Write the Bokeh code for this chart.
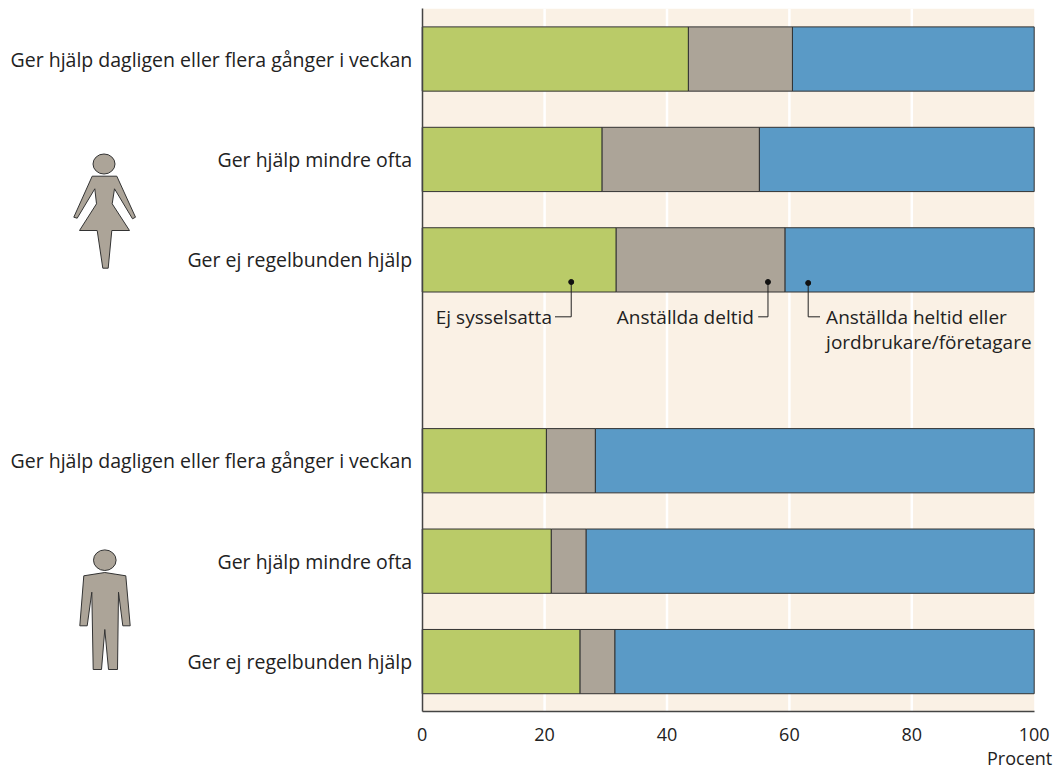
from bokeh.plotting import figure
from bokeh.embed import file_html
from bokeh.resources import INLINE
from bokeh.models import Range1d, FixedTicker
from bokeh.models import ColumnDataSource
from bokeh.core.properties import value

FONT = "Open Sans"
INK = "#222222"
EDGE = "#333333"
CREAM = "#FAF1E5"

categories = ["Ger hjälp dagligen eller flera gånger i veckan",
              "Ger hjälp mindre ofta",
              "Ger ej regelbunden hjälp"] * 2
rows = [0.5, 1.5, 2.5, 4.5, 5.5, 6.5]
ej_sysselsatta = [43.5, 29.4, 31.7, 20.3, 21.1, 25.8]
deltid = [17.0, 25.7, 27.6, 8.0, 5.7, 5.7]
heltid = [39.5, 44.9, 40.7, 71.7, 73.2, 68.5]
colors = ["#BACB68", "#ACA498", "#5A9AC6"]
x_ticks = [0, 20, 40, 60, 80, 100]
grid_ticks = [20, 40, 60, 80]

woman_x = [91.7, 116.3, 135, 132, 114, 111.7, 129, 111.3, 107.7, 102.3, 96.7, 79, 96, 94.3, 76.7, 73.3]
woman_y = [175.7, 175.7, 216.7, 218.3, 188.3, 203.3, 230, 230, 267.7, 267.7, 230, 230, 203.3, 188.3, 217.7, 216.7]
man_x = [83.3, 104.3, 125.3, 129.7, 122.3, 118, 117, 108, 104.3, 101, 92.7, 91.3, 86.7, 79.3]
man_y = [575.3, 572, 575.3, 625.3, 625.3, 591.7, 669, 669, 629, 669, 669, 591.7, 625.3, 625.3]
heads_x = [103.5, 104.3]
heads_y = [163.5, 559.7]
heads_w = [22, 22.6]
heads_h = [20, 20.6]

# The frame spans the whole page so that pictograms and unit text can lie outside the value area.
p = figure(width=1054, height=770,
           x_range=Range1d(-421.7 / 6.12, 632.3 / 6.12),
           y_range=Range1d(761.7 / 100.43, -8.3 / 100.43),
           toolbar_location=None, output_backend="svg",
           min_border_left=0, min_border_right=0, min_border_top=0, min_border_bottom=0)
p.extra_x_ranges = {"page": Range1d(0, 1054)}
p.extra_y_ranges = {"page": Range1d(770, 0)}
p.outline_line_color = None
p.grid.visible = False

# Cream plot band and its white grid lines
p.quad(left=[0], right=[100], top=[0], bottom=[7], color=CREAM, line_color=None, level="image")
p.segment(grid_ticks, [0] * 4, grid_ticks, [7] * 4, line_color="white", line_width=2.5, level="underlay")

src = ColumnDataSource(dict(y=rows, a=ej_sysselsatta, b=deltid, c=heltid))
p.hbar_stack(["a", "b", "c"], y="y", height=0.64, source=src, color=colors,
             line_color=EDGE, line_width=1)

p.xaxis.ticker = FixedTicker(ticks=x_ticks)
p.xaxis.bounds = (0, 100)
p.xaxis.fixed_location = 7
p.yaxis.ticker = FixedTicker(ticks=rows)
p.yaxis.bounds = (0, 7)
p.yaxis.fixed_location = 0
p.yaxis.major_label_overrides = {r: c for r, c in zip(rows, categories)}
for ax in (p.xaxis[0], p.yaxis[0]):
    ax.major_tick_line_color = None
    ax.minor_tick_line_color = None
    ax.axis_line_color = "#444444"
    ax.axis_line_width = 1.5
    ax.major_label_text_font = FONT
    ax.major_label_text_color = INK
p.xaxis.major_label_text_font_size = "18px"
p.yaxis.major_label_text_font_size = "19.5px"
p.yaxis.major_label_standoff = 4
p.xaxis.major_label_standoff = 10

# Call-outs
dot_x = [24.35, 56.5, 63.07]
dot_y = [2.72, 2.72, 2.73]
lead_x = [[24.35, 24.35, 21.7], [56.5, 56.5, 54.9], [63.07, 63.07, 65.0]]
lead_y = [[2.72, 3.067, 3.067], [2.72, 3.067, 3.067], [2.73, 3.067, 3.067]]
p.multi_line(lead_x, lead_y, line_color="#222222", line_width=1)
p.scatter(dot_x, dot_y, size=5, color="#111111")
p.text([21.2, 54.2], [3.067, 3.067], text=["Ej sysselsatta", "Anställda deltid"],
       text_font=value(FONT), text_font_size="19px", text_color=INK,
       text_align="right", text_baseline="middle")
p.text([66.0, 66.0], [3.067, 3.316], text=["Anställda heltid eller", "jordbrukare/företagare"],
       text_font=value(FONT), text_font_size="19px", text_color=INK,
       text_align="left", text_baseline="middle")

p.text([102.94], [7.458], text=["Procent"], text_font=value(FONT), text_font_size="18px",
       text_color=INK, text_align="right", text_baseline="middle")

# Pictograms
p.patches([woman_x, man_x], [woman_y, man_y], fill_color=colors[1], line_color=EDGE, line_width=1,
          x_range_name="page", y_range_name="page")
p.ellipse(heads_x, heads_y, width=heads_w, height=heads_h, fill_color=colors[1],
          line_color=EDGE, line_width=1, x_range_name="page", y_range_name="page")

open("out.html", "w").write(file_html(p, INLINE))
